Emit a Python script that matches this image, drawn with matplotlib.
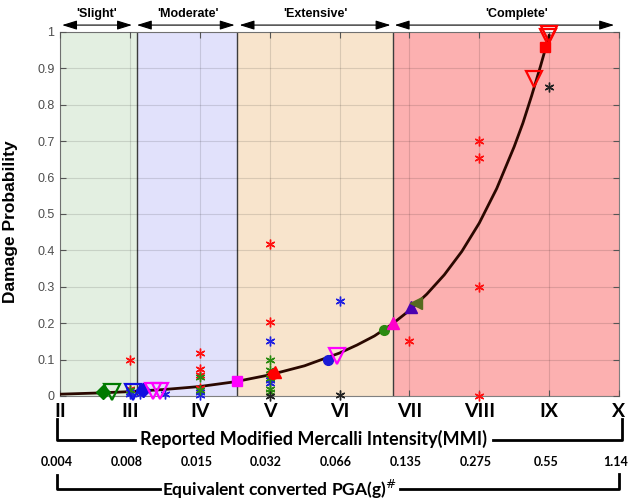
import matplotlib
matplotlib.use("Agg")
import matplotlib.pyplot as plt
from matplotlib.lines import Line2D
import matplotlib.transforms as mtransforms

# ---- data ----
# fitted fragility curve (MMI -> damage probability)
curve_mmi = [2, 2.5, 3, 3.5, 4, 4.5, 5, 5.5, 6, 6.25, 6.5, 6.75, 7, 7.25, 7.5, 7.75,
             8, 8.25, 8.5, 8.625, 8.75, 8.875, 9]
curve_p = [0.005, 0.008, 0.012, 0.018, 0.026, 0.039, 0.058, 0.083, 0.118, 0.14, 0.165,
           0.197, 0.235, 0.28, 0.333, 0.397, 0.475, 0.57, 0.685, 0.75, 0.825, 0.905, 0.99]

# damage state zones
zone_names = ["'Slight'", "'Moderate'", "'Extensive'", "'Complete'"]
zone_edges = [2, 3.1, 4.54, 6.77, 10]
zone_colors = ["#e3efe1", "#e1e1fb", "#f8e4cc", "#fcb0b0"]

# observed (asterisk) points
red_star_x = [3, 3, 4, 4, 4, 4, 5, 5, 5, 7, 8, 8, 8, 8]
red_star_y = [0.099, 0.02, 0.118, 0.074, 0.058, 0.022, 0.418, 0.203, 0.06, 0.15, 0.70, 0.655, 0.30, 0.0]
blue_star_x = [3, 3, 3.15, 3.5, 4, 4, 5, 5, 5, 6]
blue_star_y = [0.012, 0.005, 0.005, 0.006, 0.01, 0.004, 0.151, 0.044, 0.036, 0.26]
green_star_x = [3, 4, 4, 5, 5, 5, 5, 5]
green_star_y = [0.016, 0.052, 0.017, 0.10, 0.071, 0.05, 0.019, 0.012]
black_star_x = [5, 6, 9]
black_star_y = [0.0, 0.004, 0.85]

# other study markers: (mmi, prob, marker, color, filled)
study_x = [2.61, 2.75, 3.05, 3.19, 3.33, 3.43, 4.54, 5.05, 5.07, 5.83, 5.96,
           6.63, 6.77, 7.03, 7.1, 8.79, 8.94, 8.98, 9.0]
study_y = [0.011, 0.011, 0.011, 0.016, 0.014, 0.014, 0.04, 0.06, 0.065, 0.10, 0.11,
           0.18, 0.20, 0.245, 0.255, 0.87, 0.96, 0.985, 0.995]
study_marker = ["D", "v", "v", "D", "v", "v", "s", "o", "^", "o", "v",
                "o", "^", "^", "<", "v", "s", "v", "v"]
study_color = ["#007a00", "#007a00", "#1010e0", "#1010e0", "#ff00ff", "#ff00ff", "#ff00ff",
               "#ff0000", "#ff0000", "#1a1ad6", "#ff00ff", "#2a8a10", "#ff00cc",
               "#4b00b0", "#556b1f", "#ff0000", "#ff0000", "#ff0000", "#ff0000"]
study_filled = [True, False, False, True, False, False, True, True, True, True, False,
                True, True, True, True, False, True, False, False]

mmi_ticks = [2, 3, 4, 5, 6, 7, 8, 9, 10]
mmi_labels = ["II", "III", "IV", "V", "VI", "VII", "VIII", "IX", "X"]
pga_labels = ["0.004", "0.008", "0.015", "0.032", "0.066", "0.135", "0.275", "0.55", "1.14"]

# ---- figure ----
W, H = 635, 501
fig = plt.figure(figsize=(W / 100, H / 100), dpi=100)
ax = fig.add_axes([60 / W, 105 / H, 559 / W, 364 / H])

def fpx(x, y):
    return (x / W, 1 - y / H)

for i in range(4):
    ax.axvspan(zone_edges[i], zone_edges[i + 1], color=zone_colors[i], zorder=0, lw=0)
for e in zone_edges[1:-1]:
    ax.axvline(e, color="#3c3c3c", lw=1.0, zorder=1)

ax.plot(curve_mmi, curve_p, color="#2a0800", lw=2.0, zorder=3, solid_joinstyle="round")

star = (6, 2, 0)
ax.plot(red_star_x, red_star_y, ls="none", marker=star, ms=7, mec="#ff1010", mew=1.0, zorder=4, clip_on=False)
ax.plot(blue_star_x, blue_star_y, ls="none", marker=star, ms=7, mec="#2020e0", mew=1.0, zorder=4, clip_on=False)
ax.plot(green_star_x, green_star_y, ls="none", marker=star, ms=7, mec="#2a8a10", mew=1.0, zorder=4, clip_on=False)
ax.plot(black_star_x, black_star_y, ls="none", marker=star, ms=7, mec="#222222", mew=1.0, zorder=4, clip_on=False)

for x, y, m, c, f in zip(study_x, study_y, study_marker, study_color, study_filled):
    if f:
        ms = 7 if m in ("o", "D", "s") else 8
        ax.plot([x], [y], ls="none", marker=m, ms=ms, mfc=c, mec=c, zorder=5, clip_on=False)
    else:
        ax.plot([x], [y], ls="none", marker=m, ms=12, mfc="none", mec=c, mew=1.6, zorder=5, clip_on=False)

ax.set_xlim(2, 10)
ax.set_ylim(0, 1)
ax.set_yticks([i / 10 for i in range(11)])
ax.set_yticklabels(["0"] + ["0.%d" % i for i in range(1, 10)] + ["1"],
                   fontsize=9, color="#4d4d4d", family="Liberation Sans")
ax.set_xticks(mmi_ticks)
ax.set_xticklabels(mmi_labels, fontsize=14, fontweight="bold", family="Lato")
ax.tick_params(direction="in", top=True, right=True, length=4, color="#555555")
ax.tick_params(axis="x", pad=5)
ax.tick_params(axis="y", pad=4)
ax.grid(True, color="#000000", alpha=0.12, lw=0.8)
ax.set_axisbelow(False)
for s in ax.spines.values():
    s.set_color("#808080")
ax.set_ylabel("Damage Probability", fontsize=12.5, fontweight="bold",
              family="Liberation Sans", labelpad=6)
ax.yaxis.set_label_coords(-0.075, 0.48)

# damage state arrows on top
arrow_spans = [(2.03, 3.03), (3.1, 4.5), (4.57, 6.73), (6.79, 9.93)]
label_x = [2.53, 3.83, 5.66, 8.54]
for (a, b), lx, name in zip(arrow_spans, label_x, zone_names):
    ax.annotate("", xy=(b, 1.019), xytext=(a, 1.019), xycoords=("data", "axes fraction"),
                arrowprops=dict(arrowstyle="<|-|>,head_length=0.9,head_width=0.28",
                                color="black", lw=0.8, shrinkA=0, shrinkB=0))
    ax.text(lx, 1.05, name, transform=ax.get_xaxis_transform(), ha="center", va="center",
            fontsize=9, fontweight="bold", family="Liberation Sans")

# bottom brackets
lw_b = 2.0
fig.add_artist(Line2D(*zip(fpx(57, 419), fpx(57, 440), fpx(135, 440)),
                      transform=fig.transFigure, color="black", lw=lw_b))
fig.add_artist(Line2D(*zip(fpx(493, 440), fpx(622, 440), fpx(622, 419)),
                      transform=fig.transFigure, color="black", lw=lw_b))
fig.text(*fpx(314, 439), "Reported Modified Mercalli Intensity(MMI)", ha="center", va="center",
         fontsize=13, fontweight="bold", family="Lato")

trans = mtransforms.blended_transform_factory(ax.transData, fig.transFigure)
for t, lab in zip(mmi_ticks, pga_labels):
    ax.text(t - 0.05, 1 - 462 / H, lab, transform=trans, ha="center", va="center",
            fontsize=9, fontweight="bold", family="Lato", clip_on=False)

fig.add_artist(Line2D(*zip(fpx(57, 475), fpx(57, 489), fpx(160, 489)),
                      transform=fig.transFigure, color="black", lw=lw_b))
fig.add_artist(Line2D(*zip(fpx(400, 489), fpx(619, 489), fpx(619, 474)),
                      transform=fig.transFigure, color="black", lw=lw_b))
fig.text(*fpx(279, 489), r"Equivalent converted PGA(g)$^{\#}$", ha="center", va="center",
         fontsize=12.5, fontweight="bold", family="Lato")

fig.savefig("out.png", dpi=100)
